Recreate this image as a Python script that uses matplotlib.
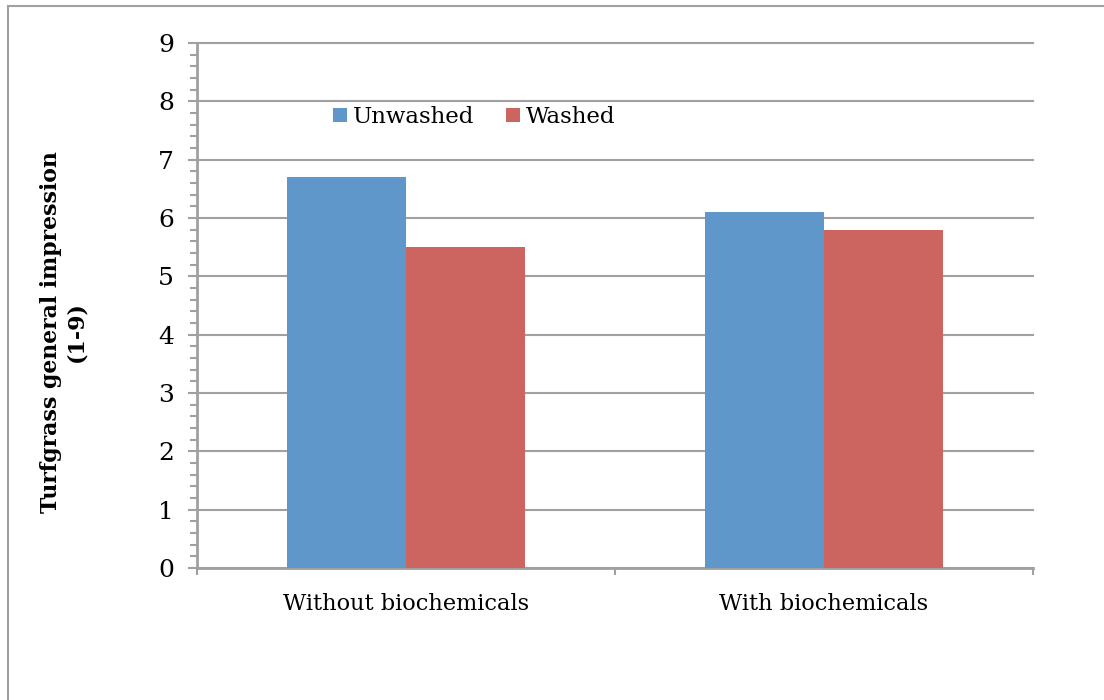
import matplotlib
matplotlib.use("Agg")
import matplotlib.pyplot as plt
from matplotlib.patches import Rectangle
import numpy as np

categories = ["Without biochemicals", "With biochemicals"]
series_names = ["Unwashed", "Washed"]
unwashed = [6.7, 6.1]
washed = [5.5, 5.8]
colors = ["#5F97CA", "#CC655F"]

plt.rcParams['font.family'] = ['DejaVu Serif']

fig = plt.figure(figsize=(11.04, 7.0), dpi=100)
ax = fig.add_axes([197/1104, 1-568/700, (1033-197)/1104, (568-43)/700])

# figure border
fig.patches.append(Rectangle((8/1104, -0.1), 1.2, 1.1 - 6/700, transform=fig.transFigure,
                             fill=False, edgecolor="#A0A0A0", linewidth=1.5))

x = np.arange(len(categories)) + 0.5
w = 1/3.5
ax.bar(x - w/2, unwashed, width=w, color=colors[0], label=series_names[0], zorder=3)
ax.bar(x + w/2, washed, width=w, color=colors[1], label=series_names[1], zorder=3)

ax.set_xlim(0, 2)
ax.set_ylim(0, 9)
ax.set_yticks(range(0, 10))
ax.set_yticks(np.arange(0, 9.01, 0.2), minor=True)
ax.set_xticks([0, 1, 2])
ax.set_xticklabels([])
ax.set_xticks(x, minor=True)
ax.set_xticklabels(categories, minor=True)
ax.tick_params(axis='x', which='minor', length=0, labelsize=16.2, pad=18)
ax.tick_params(axis='x', which='major', length=5, width=1.5, color="#A0A0A0")
ax.tick_params(axis='y', which='major', length=6.5, width=1.5, color="#A0A0A0", labelsize=18, pad=10)
ax.tick_params(axis='y', which='minor', length=5, width=1.5, color="#A0A0A0")

ax.grid(axis='y', which='major', color="#A0A0A0", linewidth=1.5, zorder=0)
for gl in ax.get_ygridlines():
    gl.set_clip_on(False)
for s in ['top', 'right']:
    ax.spines[s].set_visible(False)
for s in ['left', 'bottom']:
    ax.spines[s].set_color("#A0A0A0")
    ax.spines[s].set_linewidth(2)

ax.set_ylabel("Turfgrass general impression\n(1-9)", fontsize=15.8, fontweight='bold',
              linespacing=1.2)
ax.yaxis.set_label_coords((87 - 197)/836, (568 - 332)/525)

leg = ax.legend(loc='upper left', bbox_to_anchor=((324-197)/836, (568-97)/525), ncol=2, frameon=False,
                fontsize=16.5, handlelength=0.6, handleheight=0.6, handletextpad=0.25, columnspacing=1.4,
                borderaxespad=0)

fig.savefig("out.png", dpi=100)
